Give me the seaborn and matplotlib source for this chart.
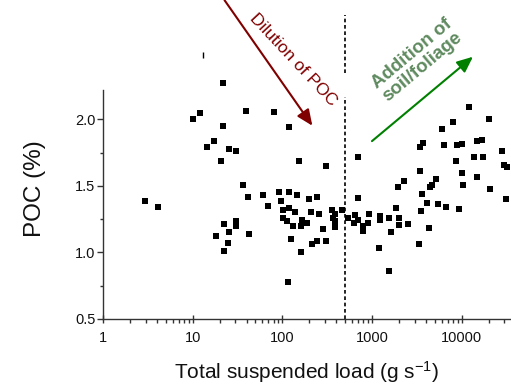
import numpy as np
import pandas as pd
import matplotlib
matplotlib.use("Agg")
import matplotlib.pyplot as plt
import seaborn as sns

# Total suspended load (g/s) and particulate organic carbon (%)
tsl = [2.94, 4.14,
       10.2, 12.1, 21.9, 39, 80.5, 22, 119,
       14.5, 17.4, 25.6, 30.4, 20.5, 154,
       36.7, 41.4, 61.2, 69.6, 91.6, 119, 144, 96.5, 200, 241,
       101, 119, 138, 207, 258,
       101, 114, 132, 167, 190, 163,
       124, 215, 241, 161, 116,
       22.5, 30.6, 30.6, 25.2, 18.2, 42, 24.7, 22.3,
       702, 309, 8610, 13800, 17500, 27900, 29800, 32400,
       3420, 9970, 14800, 5150, 2270, 1940, 4650, 4420, 10400, 20600, 3630,
       702, 31100, 4130, 5470, 6610, 1845, 9380, 3480,
       354, 458, 386, 363, 386, 386, 286, 309,
       543, 646, 634, 692, 931, 907, 798, 798, 1225, 1225, 1555, 1995, 1995,
       2535, 1625, 4350, 1183, 3365, 1555,
       12100, 8040, 6070, 20300, 3660, 3420, 6340, 8980, 9970, 14660, 16900]
poc = [1.383, 1.342,
       2.00, 2.05, 2.275, 2.06, 2.055, 1.95, 1.94,
       1.79, 1.835, 1.78, 1.765, 1.69, 1.69,
       1.507, 1.415, 1.428, 1.347, 1.452, 1.452, 1.435, 1.39, 1.405, 1.415,
       1.317, 1.335, 1.30, 1.30, 1.29,
       1.26, 1.237, 1.20, 1.24, 1.218, 1.195,
       1.10, 1.064, 1.085, 1.0, 0.78,
       1.21, 1.235, 1.197, 1.152, 1.12, 1.137, 1.07, 1.007,
       1.72, 1.65, 1.685, 1.72, 1.72, 1.76, 1.655, 1.64,
       1.615, 1.595, 1.57, 1.55, 1.54, 1.49, 1.51, 1.49, 1.505, 1.48, 1.44,
       1.407, 1.405, 1.375, 1.362, 1.34, 1.337, 1.325, 1.31,
       1.315, 1.315, 1.29, 1.255, 1.235, 1.19, 1.175, 1.085,
       1.255, 1.28, 1.222, 1.242, 1.285, 1.218, 1.197, 1.16, 1.275, 1.245, 1.26, 1.255, 1.205,
       1.212, 1.15, 1.187, 1.032, 1.067, 0.857,
       2.092, 1.98, 1.93, 2.0, 1.825, 1.79, 1.81, 1.805, 1.817, 1.837, 1.842]

# stray error-bar tick above the frame
stray_x = [13.0]
stray_y = [2.48]

threshold = 500
x_ticks = [1, 10, 100, 1000, 10000]
x_ticklabels = ["1", "10", "100", "1000", "10000"]
y_ticks = [0.5, 1.0, 1.5, 2.0]
y_ticklabels = ["0.5", "1.0", "1.5", "2.0"]

df = pd.DataFrame({"tsl": tsl, "poc": poc})

sns.set_theme(style="ticks")
plt.rcParams["font.family"] = ["Liberation Sans", "DejaVu Sans"]
plt.rcParams["mathtext.default"] = "regular"

fig = plt.figure(figsize=(5.11, 3.85), dpi=100)
ax = fig.add_axes([103 / 511, 66 / 385, 408 / 511, 229 / 385])

sns.scatterplot(data=df, x="tsl", y="poc", marker="s", s=24, color="black",
                linewidth=0, ax=ax, zorder=3, clip_on=False)
ax.plot(stray_x, stray_y, marker="|", markersize=4, color="black",
        markeredgewidth=1, clip_on=False, linestyle="none")

ax.set_xscale("log")
ax.set_xlim(1, 10 ** 4.55)
ax.set_ylim(0.5, 2.22)
ax.set_xticks(x_ticks)
ax.set_xticklabels(x_ticklabels)
ax.set_yticks(y_ticks)
ax.set_yticklabels(y_ticklabels)
ax.set_yticks([0.75, 1.25, 1.75], minor=True)
ax.xaxis.set_minor_locator(matplotlib.ticker.LogLocator(base=10, subs=np.arange(2, 10)))
ax.xaxis.set_minor_formatter(matplotlib.ticker.NullFormatter())

for side in ("top", "right"):
    ax.spines[side].set_visible(False)
for side in ("left", "bottom"):
    ax.spines[side].set_linewidth(1.0)
    ax.spines[side].set_color("#333333")

ax.tick_params(axis="y", which="major", direction="out", length=4, width=1,
               labelsize=10.5, pad=1.5, color="#333333", labelcolor="#111111")
ax.tick_params(axis="y", which="minor", direction="out", length=2.5, width=1,
               color="#333333")
ax.tick_params(axis="x", which="major", direction="inout", length=6, width=1,
               labelsize=10.5, pad=6, color="#333333", labelcolor="#111111")
ax.tick_params(axis="x", which="minor", direction="out", length=3, width=1,
               color="#333333")

ax.set_xlabel("Total suspended load (g s$^{-1}$)", fontsize=15, labelpad=10,
              color="#111111")
ax.set_ylabel("POC (%)", fontsize=17.5, color="#111111")
ax.yaxis.set_label_coords(-0.14, 0.57)

# threshold line, broken where it passes above the frame
trans = ax.get_xaxis_transform()
ax.plot([threshold, threshold], [0, 0.969], transform=trans, color="black",
        lw=1.2, linestyle=(0, (2.2, 1.6)), clip_on=False)
ax.plot([threshold, threshold], [1.074, 1.328], transform=trans, color="black",
        lw=1.2, linestyle=(0, (2.2, 1.6)), clip_on=False)

dark_red = "#800000"
ax.annotate("", xy=(0.517, 0.834), xytext=(0.294, 1.402),
            xycoords="axes fraction", textcoords="axes fraction",
            arrowprops=dict(arrowstyle="-|>,head_length=0.8,head_width=0.35",
                            color=dark_red, lw=1.5), annotation_clip=False)
ax.text(0.465, 1.13, "Dilution of POC", transform=ax.transAxes, rotation=-47,
        rotation_mode="anchor", ha="center", va="center", color=dark_red,
        fontsize=12.5, clip_on=False)

green = "#008000"
ax.annotate("", xy=(0.912, 1.153), xytext=(0.654, 0.769),
            xycoords="axes fraction", textcoords="axes fraction",
            arrowprops=dict(arrowstyle="-|>,head_length=0.8,head_width=0.35",
                            color=green, lw=1.5), annotation_clip=False)
ax.text(0.77, 1.13, "Addition of\nsoil/foliage", transform=ax.transAxes,
        rotation=40, rotation_mode="anchor", ha="center", va="center",
        color="#5f8a5f", fontsize=13.5, fontweight="bold", linespacing=1.0,
        multialignment="center", clip_on=False)

fig.savefig("out.png", dpi=100, facecolor="white")
